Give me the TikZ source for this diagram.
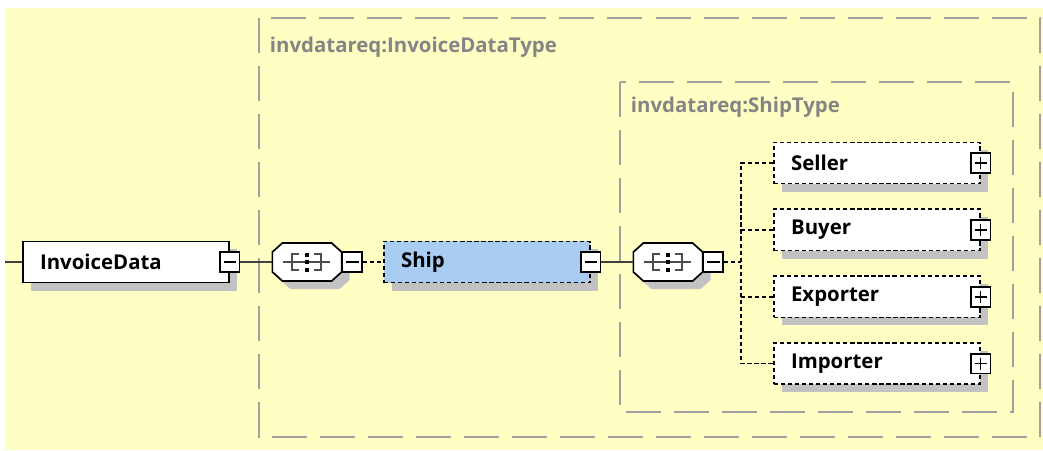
\documentclass[tikz,border=0pt]{standalone}
\usepackage{fontspec}
\setmainfont{Open Sans}
\definecolor{xsdPaper}{HTML}{FFFFC4}
\definecolor{xsdFrame}{HTML}{A0A0A0}
\definecolor{xsdShade}{HTML}{C2C2C2}
\definecolor{xsdShip}{HTML}{A9CCF2}
\definecolor{xsdTitle}{HTML}{858585}
\usetikzlibrary{
	positioning,
	calc,
	shadows
}
\newcommand\seqOutline[2]{([shift={(10+#2,#2)}]#1.north west) -- ([shift={(-10+#2,#2)}]#1.north east)
	-- ([shift={(#2,9+#2)}]#1.north east) -- ([shift={(#2,-9+#2)}]#1.south east)
	-- ([shift={(-10+#2,#2)}]#1.south east) -- ([shift={(10+#2,#2)}]#1.south west)
	-- ([shift={(#2,-9+#2)}]#1.south west) -- ([shift={(#2,9+#2)}]#1.north west) -- cycle}

\begin{document}
\begin{tikzpicture}[x=0.025cm, y=-0.025cm,
		elem/.style={draw, line width=1.2pt, fill=white, anchor=west,
			minimum height=1.03cm, text width=4.29cm, inner xsep=0.43cm, align=left,
			font=\bfseries\fontsize{14.5}{16}\selectfont,
			general shadow={fill=xsdShade, shadow xshift=0.2cm, shadow yshift=-0.2cm}},
		optelem/.style={elem, dash pattern=on 3pt off 2pt},
		btn/.style={draw, line width=1.3pt, fill=white, minimum size=0.49cm, inner sep=0pt},
		minus/.style={btn, path picture={\draw[line width=1pt]
			($(path picture bounding box.west)+(0.09cm,0)$) -- ($(path picture bounding box.east)+(-0.09cm,0)$);}},
		plus/.style={btn, path picture={\draw[line width=1pt]
			($(path picture bounding box.west)+(0.09cm,0)$) -- ($(path picture bounding box.east)+(-0.09cm,0)$)
			($(path picture bounding box.north)+(0,-0.09cm)$) -- ($(path picture bounding box.south)+(0,0.09cm)$);}},
		seqbox/.style={minimum width=1.73cm, minimum height=0.95cm, inner sep=0pt, outer sep=0pt},
		title/.style={anchor=west, text=xsdTitle, font=\bfseries\fontsize{14.5}{16}\selectfont},
		wire/.style={line width=1pt, black!75},
		optwire/.style={line width=1pt, dash pattern=on 3pt off 2pt}
	]
	\useasboundingbox (0,0) rectangle (1043,450);
	\fill[xsdPaper] (5,8) rectangle (1043,450);
	% type frames
	\draw[xsdFrame, line width=1.3pt, dash pattern=on 0.875cm off 0.325cm] (259,18) rectangle (1040,437);
	\draw[xsdFrame, line width=1.3pt, dash pattern=on 0.875cm off 0.325cm] (620,82) rectangle (1013,412);
	\node[title] (dataType) at (265,47) {invdatareq:InvoiceDataType};
	\node[title] (shipType) at (626,107) {invdatareq:ShipType};
	% sequence compositors
	\node[seqbox] (seqA) at (307,262) {};
	\node[seqbox] (seqB) at (668,262) {};
	\foreach \s in {seqA,seqB}{
		\fill[xsdShade] \seqOutline{\s}{8};
		\filldraw[fill=white, line width=1.2pt] \seqOutline{\s}{0};
		\draw[line width=1pt, black!70] ($(\s.center)+(-24,0)$) -- ($(\s.center)+(23,0)$);
		\draw[line width=1pt, black!70] ($(\s.center)+(-8,-8)$) -- ++(-7,0) -- ++(0,16) -- ++(7,0);
		\draw[line width=1pt, black!70] ($(\s.center)+(7,-8)$) -- ++(7,0) -- ++(0,16) -- ++(-7,0);
		\foreach \d in {-7.5,0,7.5}
			\fill ($(\s.center)+(-2,\d-2)$) rectangle ++(4,4);
	}
	\node[minus, right=0pt of seqA] (seqABtn) {};
	\node[minus, right=0pt of seqB] (seqBBtn) {};
	% elements
	\node[elem] (invoiceData) at (22,262) {InvoiceData};
	\node[minus] (invoiceBtn) at (invoiceData.east) {};
	\node[optelem, fill=xsdShip] (ship) at (383,262) {Ship};
	\node[minus] (shipBtn) at (ship.east) {};
	\node[optelem] (seller) at (773,163) {Seller};
	\node[optelem, below=0.6cm of seller] (buyer) {Buyer};
	\node[optelem, below=0.6cm of buyer] (exporter) {Exporter};
	\node[optelem, below=0.6cm of exporter] (importer) {Importer};
	\foreach \e in {seller,buyer,exporter,importer}
		\node[plus] (\e Btn) at (\e.east) {};
	% connectors
	\coordinate (lead) at (5,262);
	\coordinate (fork) at (741,262);
	\draw[wire] (lead) -- (invoiceData.west);
	\draw[wire] (invoiceBtn.east) -- (seqA.west);
	\draw[optwire] (seqABtn.east) -- (ship.west);
	\draw[wire] (shipBtn.east) -- (seqB.west);
	\draw[optwire] (seqBBtn.east) -- (fork);
	\draw[optwire] (seller.west) -| (fork |- importer.west) -- (importer.west);
	\draw[optwire] (fork |- buyer.west) -- (buyer.west);
	\draw[optwire] (fork |- exporter.west) -- (exporter.west);
\end{tikzpicture}
\end{document}
